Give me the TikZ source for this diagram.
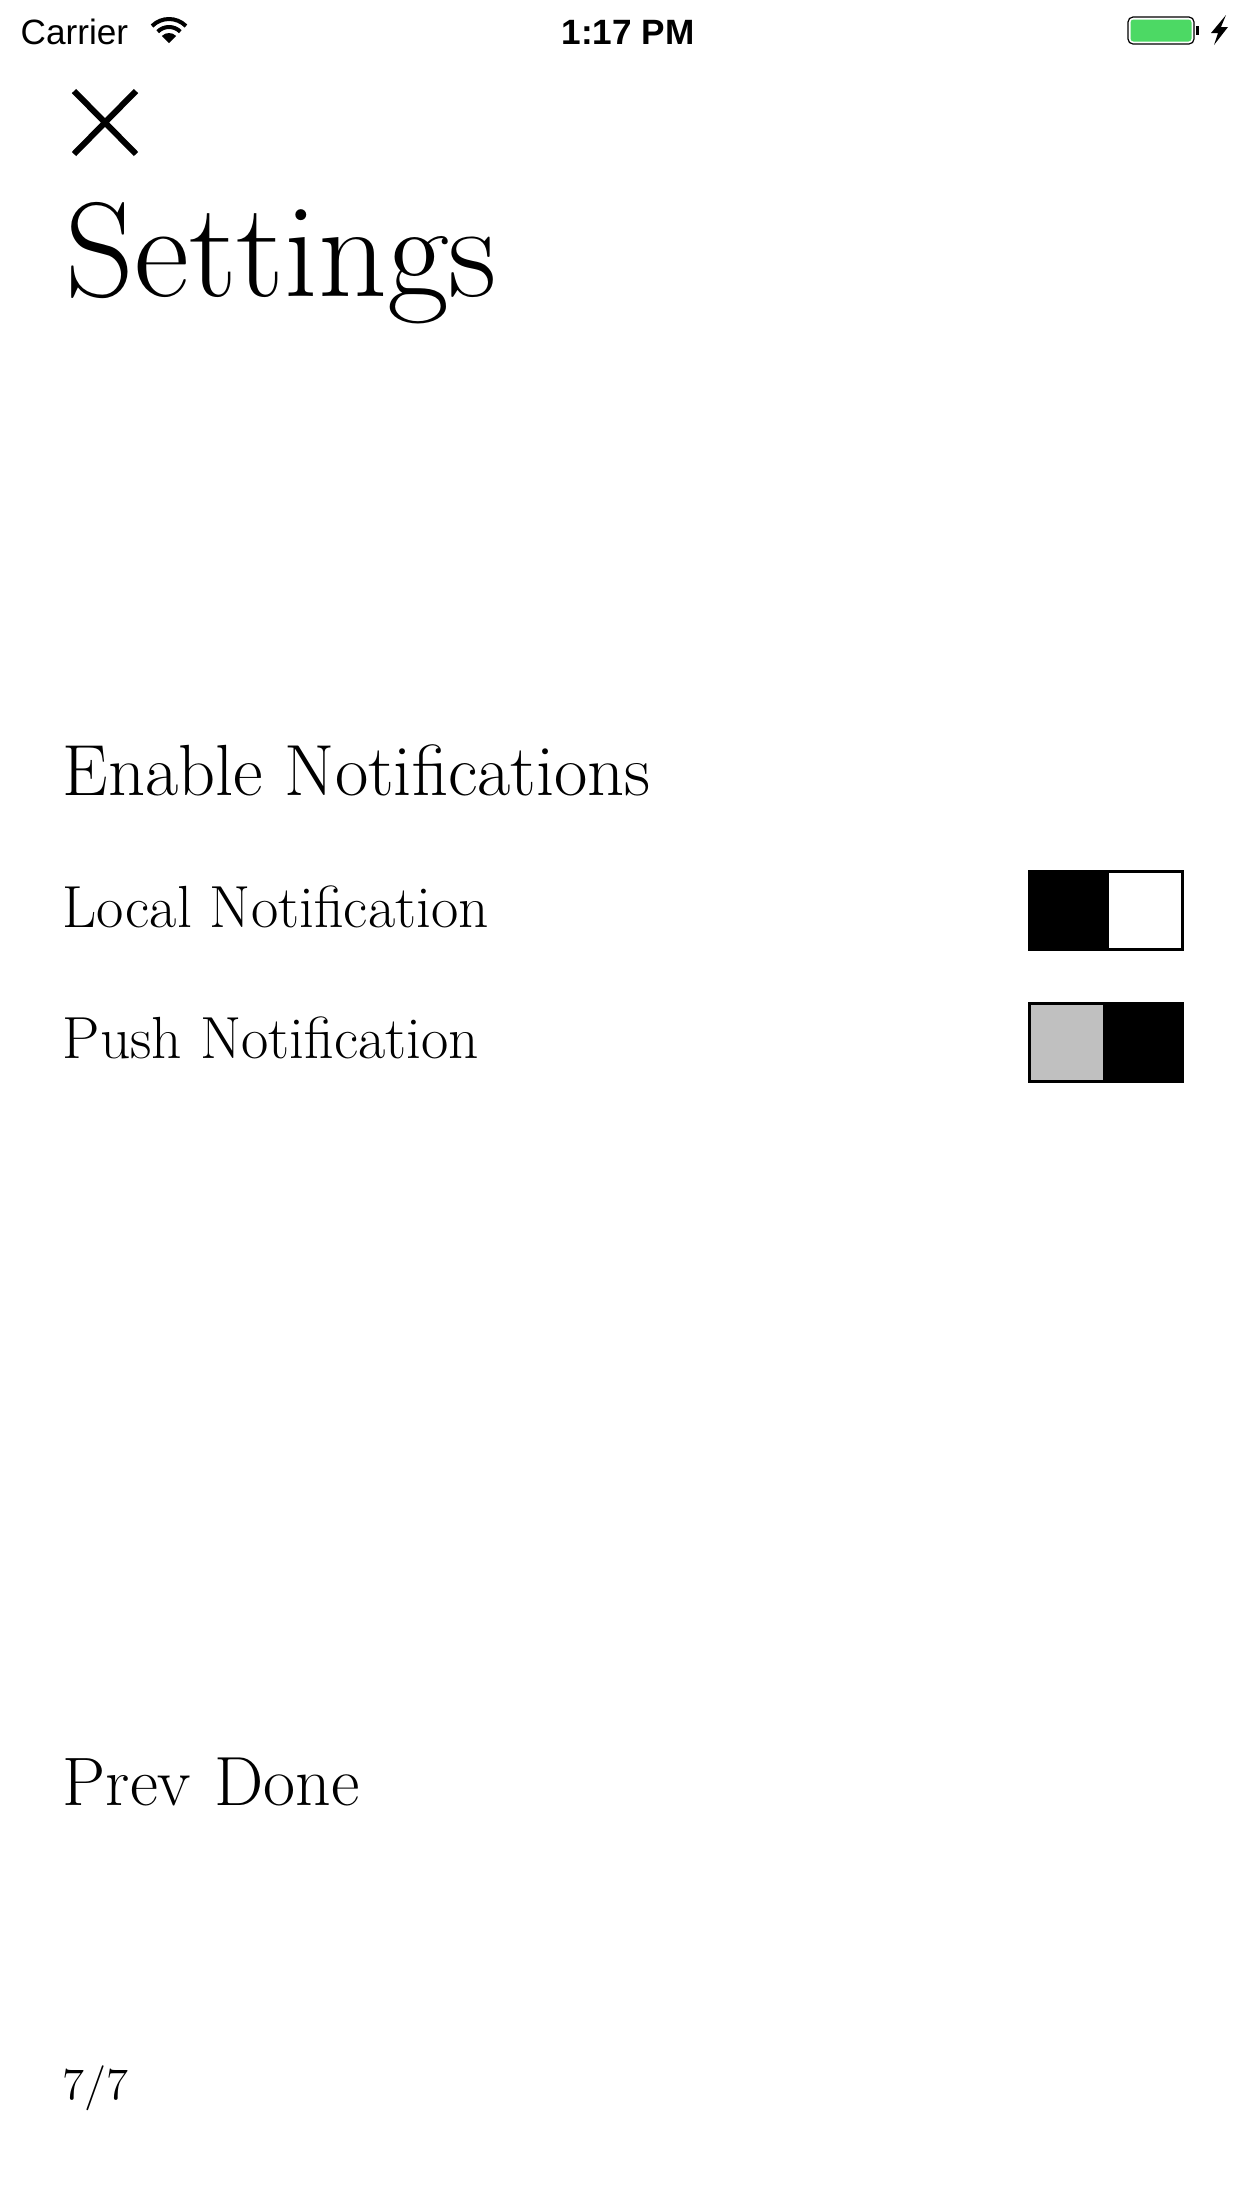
\documentclass[tikz,border=0pt]{standalone}
\usepackage{fontspec}
\newfontfamily\statusfont{Liberation Sans}
\usepackage{xcolor}
\usetikzlibrary{positioning}
\definecolor{batterygreen}{HTML}{4CD964}
\definecolor{knobgray}{HTML}{C0C0C0}

\begin{document}
\begin{tikzpicture}[x=0.01cm, y=-0.01cm,
    txt/.style={anchor=base west, inner sep=0pt},
    bar/.style={anchor=base, inner sep=0pt, font=\statusfont\fontsize{10}{12}\selectfont},
    knob/.style={draw=black, line width=0.03cm, inner sep=0pt, minimum width=0.75cm, minimum height=0.78cm}]
            \fill[white] (0,0) rectangle (1242,2208);
            \useasboundingbox (0,0) rectangle (1242,2208);
            % status bar
            \node [bar, anchor=base west] (carrier) at (20,44) {Carrier};
            \coordinate (wifi) at (169,43);
            \fill (wifi) -- ++(-135:10) arc[start angle=-135, end angle=-45, radius=10] -- cycle;
            \draw [line width=0.04cm] (wifi) ++(-135:16) arc[start angle=-135, end angle=-45, radius=16];
            \draw [line width=0.04cm] (wifi) ++(-135:24) arc[start angle=-135, end angle=-45, radius=24];
            \node [bar, font=\statusfont\bfseries\fontsize{10}{12}\selectfont] (clock) at (628,44) {1:17 PM};
            \draw [line width=0.012cm, rounded corners=0.05cm] (1128,17) rectangle (1194,44);
            \fill [batterygreen, rounded corners=0.03cm] (1130.5,19.5) rectangle (1191.5,41.5);
            \fill (1196,26) rectangle (1199,35);
            \fill (1226,15) -- (1211,33) -- (1218,33) -- (1214,45) -- (1228,27) -- (1221,27) -- cycle;
            % close button
            \draw [line width=0.06cm] (74,91) -- (136,154) (74,154) -- (136,91);
            % texts
            \node [txt, font=\fontsize{38.3}{45}\selectfont] (title) at (65,296) {Settings};
            \node [txt, font=\fontsize{20.6}{25}\selectfont] (enable) at (62,795) {Enable Notifications};
            \node [txt, font=\fontsize{16.9}{20}\selectfont] (local) at (62,927) {Local Notification};
            \node [txt, font=\fontsize{16.9}{20}\selectfont] (push) at (62,1058) {Push Notification};
            \node [txt, font=\fontsize{19.5}{23}\selectfont] (prev) at (62,1805) {Prev};
            \node [txt, font=\fontsize{19.8}{23}\selectfont, base right=0.22cm of prev] (done) {Done};
            \node [txt, font=\fontsize{12.8}{15}\selectfont] (page) at (62,2099) {7/7};
            % switches
            \node [knob, fill=black, anchor=north west] (localoff) at (1027.5,869.5) {};
            \node [knob, fill=white, right=0pt of localoff] (localon) {};
            \node [knob, fill=knobgray, anchor=north west] (pushoff) at (1027.5,1001.5) {};
            \node [knob, fill=black, right=0pt of pushoff] (pushon) {};
\end{tikzpicture}
\end{document}
